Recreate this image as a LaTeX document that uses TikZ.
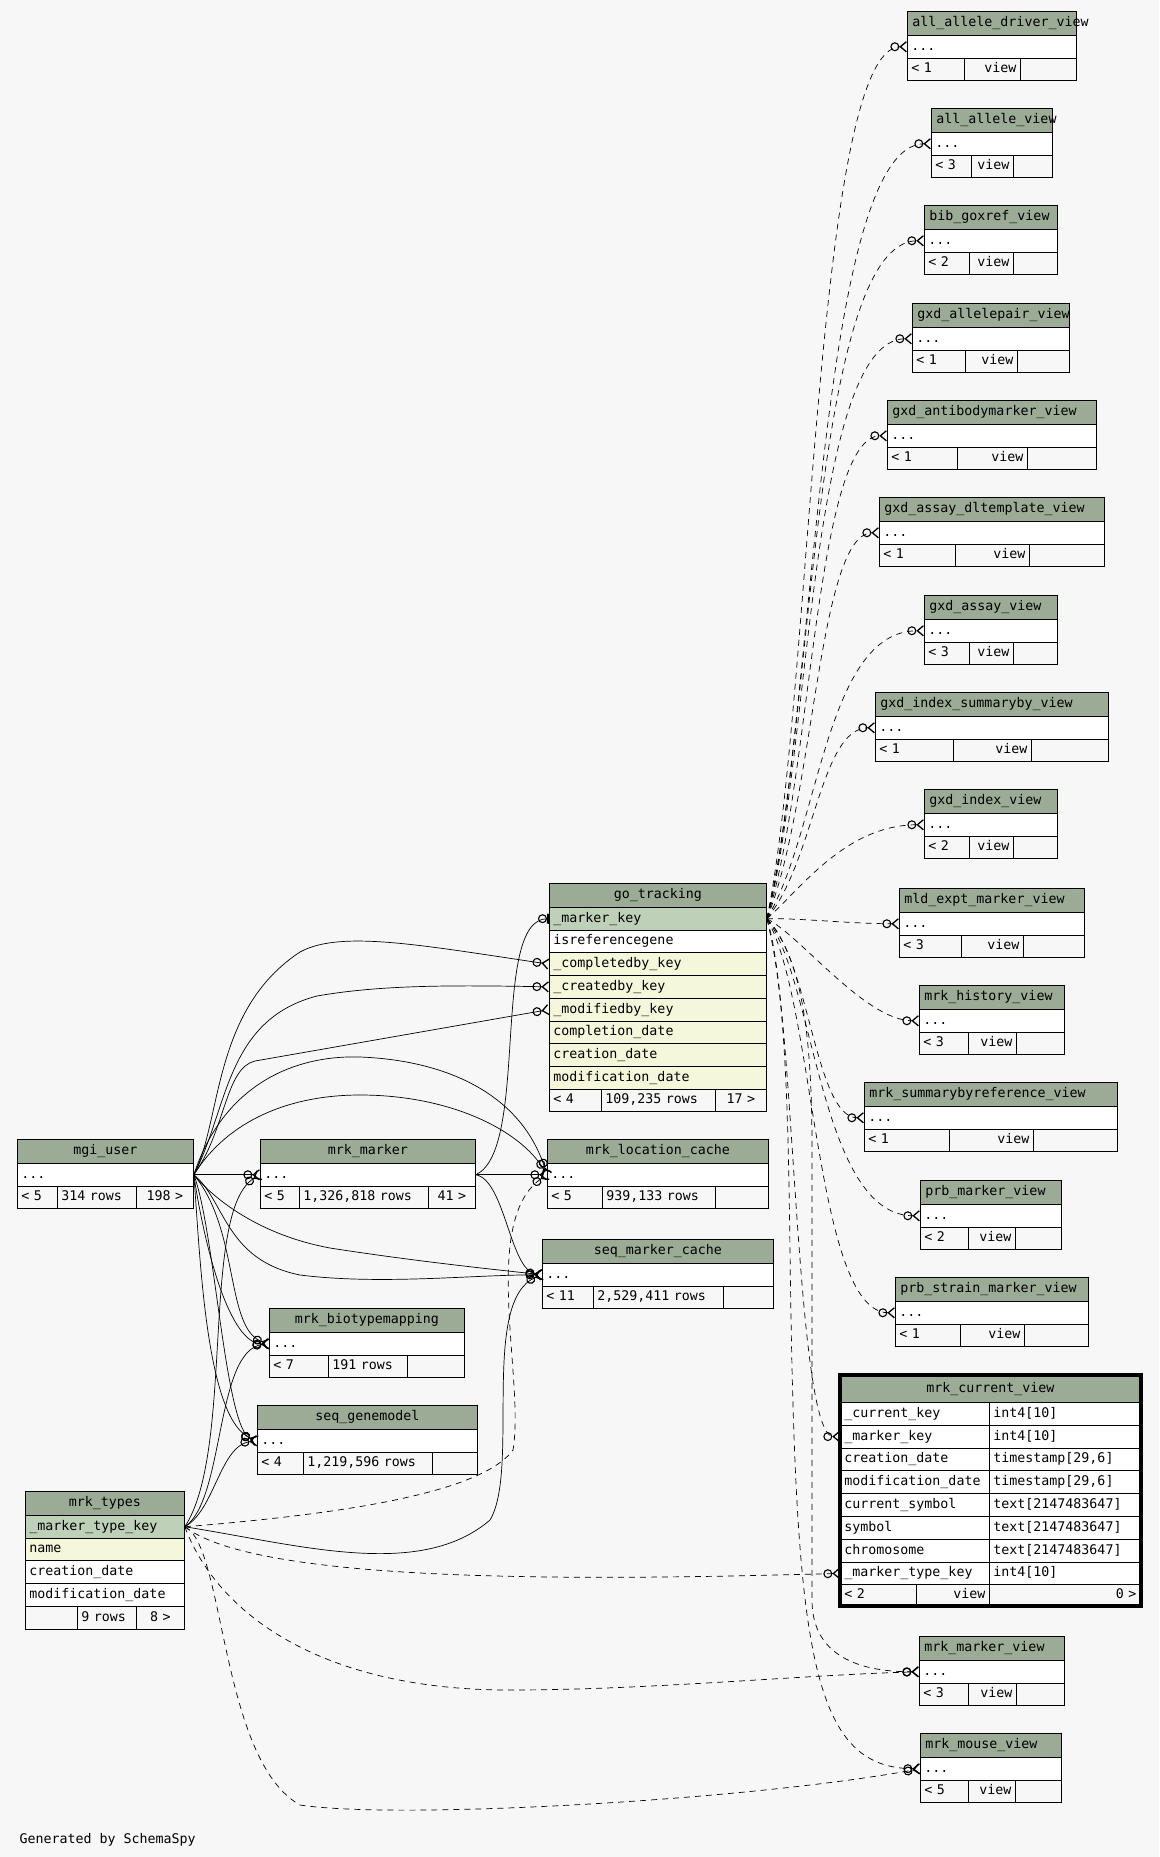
\documentclass[tikz,border=0pt]{standalone}
\usepackage{fontspec}
\setmonofont{DejaVu Sans Mono}
\usetikzlibrary{arrows.meta,positioning,fit}

\definecolor{hdrgreen}{HTML}{9BAB96}
\definecolor{keygreen}{HTML}{BED1B8}
\definecolor{fkyellow}{HTML}{F4F7DA}
\definecolor{paper}{HTML}{F7F7F7}

% one cell: name, x, y, width, style, text
\newcommand{\tcell}[6]{%
  \pgfmathsetmacro{\tcw}{#4-8}%
  \node[#5, text width=\tcw pt] (#1) at ({#2},{#3}) {#6};}
% footer row of a table: id, x, y, width, div1, div2, left, middle, right
\newcommand{\tfoot}[9]{%
  \tcell{#1-a}{#2}{#3}{#5-#2}{foot}{#7}%
  \tcell{#1-b}{#5}{#3}{#6-#5}{foot}{#8}%
  \tcell{#1-c}{#6}{#3}{#2+#4-#6}{foot, align=center}{#9}}
% a view with hidden columns: id, x, y, width, div1, div2, title, count
\newcommand{\viewtab}[8]{%
  \tcell{#1-h}{#2}{#3}{#4}{hdr, align=left}{\hspace*{1pt}\mbox{#7}}%
  \tcell{#1}{#2}{#3+24}{#4}{cellrow}{...}%
  \tcell{#1-a}{#2}{#3+46.7}{#5-#2}{foot}{< #8}%
  \tcell{#1-b}{#5}{#3+46.7}{#6-#5}{foot, align=right}{view\hspace*{3pt}}%
  \tcell{#1-c}{#6}{#3+46.7}{#2+#4-#6}{foot}{}}

\begin{document}
\begin{tikzpicture}[x=1pt, y=-1pt,
    tcellbase/.style={draw, line width=0.8pt, anchor=north west, inner xsep=4pt, inner ysep=0pt,
      text height=10pt, text depth=3pt, font=\ttfamily\fontsize{13.3}{15}\selectfont},
    hdr/.style={tcellbase, fill=hdrgreen, minimum height=24pt, align=center},
    cellrow/.style={tcellbase, fill=white, minimum height=22.7pt, align=left},
    keyrow/.style={cellrow, fill=keygreen},
    fkrow/.style={cellrow, fill=fkyellow},
    foot/.style={tcellbase, fill=paper, minimum height=22.7pt, align=left},
    fk/.style={line width=0.7pt, -{Circle[open,length=9pt,width=9pt,line width=1.1pt] Straight Barb[reversed,length=6pt,width=10pt,line width=1.3pt]}},
    implied/.style={fk, dash pattern=on 6pt off 5pt},
    one/.style={line width=0.7pt, -{Circle[open,length=9pt,width=9pt,line width=1.1pt] Bar[width=10pt,line width=2pt]}}]

\fill[paper] (0,0) rectangle (1159,1857);
\useasboundingbox (0,0) rectangle (1159,1857);

% go_tracking
\tcell{gt}{549}{883}{217}{hdr}{go\_tracking}
\tcell{gtmk}{549}{907}{217}{keyrow}{\_marker\_key}
\tcell{gtir}{549}{929.7}{217}{cellrow}{isreferencegene}
\tcell{gtcb}{549}{952.4}{217}{fkrow}{\_completedby\_key}
\tcell{gtcr}{549}{975.1}{217}{fkrow}{\_createdby\_key}
\tcell{gtmd}{549}{997.8}{217}{fkrow}{\_modifiedby\_key}
\tcell{gtcd}{549}{1020.5}{217}{fkrow}{completion\_date}
\tcell{gtcrd}{549}{1043.2}{217}{fkrow}{creation\_date}
\tcell{gtmdd}{549}{1065.9}{217}{fkrow}{modification\_date}
\tfoot{gt}{549}{1088.6}{217}{601}{715}{< 4}{109,235 rows}{17 >}

% tables with hidden columns
\tcell{mu-h}{17}{1139}{176}{hdr}{mgi\_user}
\tcell{mu}{17}{1163}{176}{cellrow}{...}
\tfoot{mu}{17}{1185.7}{176}{57}{136}{< 5}{314 rows}{198 >}

\tcell{mm-h}{260}{1139}{215}{hdr}{mrk\_marker}
\tcell{mm}{260}{1163}{215}{cellrow}{...}
\tfoot{mm}{260}{1185.7}{215}{299}{428}{< 5}{1,326,818 rows}{41 >}

\tcell{mlc-h}{547}{1139}{221}{hdr}{mrk\_location\_cache}
\tcell{mlc}{547}{1163}{221}{cellrow}{...}
\tfoot{mlc}{547}{1185.7}{221}{602}{715}{< 5}{939,133 rows}{}

\tcell{smc-h}{542}{1239}{231}{hdr}{seq\_marker\_cache}
\tcell{smc}{542}{1263}{231}{cellrow}{...}
\tfoot{smc}{542}{1285.7}{231}{593}{723}{< 11}{2,529,411 rows}{}

\tcell{mbm-h}{269}{1308}{195}{hdr}{mrk\_biotypemapping}
\tcell{mbm}{269}{1332}{195}{cellrow}{...}
\tfoot{mbm}{269}{1354.7}{195}{328}{407}{< 7}{191 rows}{}

\tcell{sgm-h}{257}{1405}{220}{hdr}{seq\_genemodel}
\tcell{sgm}{257}{1429}{220}{cellrow}{...}
\tfoot{sgm}{257}{1451.7}{220}{303}{432}{< 4}{1,219,596 rows}{}

% mrk_types
\tcell{mt-h}{25}{1491}{159}{hdr}{mrk\_types}
\tcell{mtkey}{25}{1515}{159}{keyrow}{\_marker\_type\_key}
\tcell{mtname}{25}{1537.7}{159}{fkrow}{name}
\tcell{mtcd}{25}{1560.4}{159}{cellrow}{creation\_date}
\tcell{mtmd}{25}{1583.1}{159}{cellrow}{modification\_date}
\tfoot{mt}{25}{1605.8}{159}{77}{136}{}{9 rows}{8 >}

% mrk_current_view
\tcell{mcv-h}{840}{1375}{300}{hdr, minimum height=27pt}{mrk\_current\_view}
\tcell{mcvck}{840}{1402}{149}{cellrow}{\_current\_key}
\tcell{mcvck-t}{989}{1402}{151}{cellrow}{int4[10]}
\tcell{mcvmk}{840}{1424.8}{149}{cellrow}{\_marker\_key}
\tcell{mcvmk-t}{989}{1424.8}{151}{cellrow}{int4[10]}
\tcell{mcvcd}{840}{1447.6}{149}{cellrow}{creation\_date}
\tcell{mcvcd-t}{989}{1447.6}{151}{cellrow}{timestamp[29,6]}
\tcell{mcvmd}{840}{1470.4}{149}{cellrow}{modification\_date}
\tcell{mcvmd-t}{989}{1470.4}{151}{cellrow}{timestamp[29,6]}
\tcell{mcvcs}{840}{1493.2}{149}{cellrow}{current\_symbol}
\tcell{mcvcs-t}{989}{1493.2}{151}{cellrow}{text[2147483647]}
\tcell{mcvsy}{840}{1516}{149}{cellrow}{symbol}
\tcell{mcvsy-t}{989}{1516}{151}{cellrow}{text[2147483647]}
\tcell{mcvch}{840}{1538.8}{149}{cellrow}{chromosome}
\tcell{mcvch-t}{989}{1538.8}{151}{cellrow}{text[2147483647]}
\tcell{mcvmt}{840}{1561.6}{149}{cellrow}{\_marker\_type\_key}
\tcell{mcvmt-t}{989}{1561.6}{151}{cellrow}{int4[10]}
\tcell{mcv-a}{840}{1584.4}{76}{foot, minimum height=21pt}{< 2}
\tcell{mcv-b}{916}{1584.4}{73}{foot, minimum height=21pt, align=right}{view\hspace*{3pt}}
\tcell{mcv-c}{989}{1584.4}{151}{foot, minimum height=21pt, align=right}{0 >\hspace*{6pt}}
\node[fit=(mcv-h)(mcv-c), draw, line width=4pt, inner sep=0pt] (mcv) {};

% views
\viewtab{aadv}{907}{11}{169}{964}{1020}{all\_allele\_driver\_view}{1}
\viewtab{aav}{931}{108}{121}{971}{1013}{all\_allele\_view}{3}
\viewtab{bgv}{924}{205}{133}{969}{1013}{bib\_goxref\_view}{2}
\viewtab{gapv}{912}{303}{157}{965}{1017}{gxd\_allelepair\_view}{1}
\viewtab{gabv}{887}{400}{209}{957}{1027}{gxd\_antibodymarker\_view}{1}
\viewtab{gadv}{879}{497}{225}{955}{1029}{gxd\_assay\_dltemplate\_view}{1}
\viewtab{gav}{924}{595}{133}{969}{1013}{gxd\_assay\_view}{3}
\viewtab{gisv}{875}{692}{233}{953}{1031}{gxd\_index\_summaryby\_view}{1}
\viewtab{giv}{924}{789}{133}{969}{1013}{gxd\_index\_view}{2}
\viewtab{mev}{899}{888}{185}{961}{1023}{mld\_expt\_marker\_view}{3}
\viewtab{mhv}{919}{985}{145}{968}{1016}{mrk\_history\_view}{3}
\viewtab{msrv}{864}{1082}{253}{949}{1033}{mrk\_summarybyreference\_view}{1}
\viewtab{pmv}{920}{1180}{141}{968}{1015}{prb\_marker\_view}{2}
\viewtab{psmv}{895}{1277}{193}{960}{1024}{prb\_strain\_marker\_view}{1}
\viewtab{mkv}{919}{1636}{145}{968}{1016}{mrk\_marker\_view}{3}
\viewtab{mov}{920}{1733}{141}{968}{1015}{mrk\_mouse\_view}{5}

\node[anchor=base west, font=\ttfamily\fontsize{13.3}{15}\selectfont] (credit) at (16,1843) {Generated by SchemaSpy};

% mgi_user
\draw[fk] (mu.east) .. controls (222,1120) and (212,1010) .. (300,952) .. controls (340,930) and (420,945) .. (gtcb.west);
\draw[fk] (mu.east) .. controls (228,1110) and (225,1020) .. (317,996) .. controls (380,985) and (450,985) .. (gtcr.west);
\draw[fk] (mu.east) .. controls (226,1130) and (225,1068) .. (255,1061) -- (gtmd.west);
\draw[fk] (mu.east) .. controls (225,1080) and (300,1055) .. (360,1057) .. controls (440,1060) and (520,1090) .. (mlc.west);
\draw[fk] (mu.east) .. controls (228,1120) and (290,1095) .. (360,1095) .. controls (450,1095) and (520,1130) .. (mlc.west);
\draw[fk] (mu.east) -- (mm.west);
\draw[fk] (mu.east) .. controls (215,1200) and (260,1235) .. (330,1248) .. controls (420,1262) and (500,1270) .. (smc.west);
\draw[fk] (mu.east) .. controls (225,1200) and (225,1260) .. (300,1275) .. controls (380,1285) and (470,1275) .. (smc.west);
\draw[fk] (mu.east) .. controls (240,1230) and (225,1330) .. (mbm.west);
\draw[fk] (mu.east) .. controls (205,1250) and (230,1345) .. (mbm.west);
\draw[fk] (mu.east) .. controls (200,1250) and (205,1420) .. (sgm.west);
\draw[fk] (mu.east) .. controls (215,1230) and (225,1430) .. (sgm.west);

% mrk_marker
\draw[one] (mm.east) .. controls (530,1150) and (490,918) .. (gtmk.west);
\draw[fk] (mm.east) -- (mlc.west);
\draw[fk] (mm.east) .. controls (505,1180) and (510,1270) .. (smc.west);

% mrk_types
\draw[fk] (mtkey.east) .. controls (235,1450) and (200,1210) .. (mm.west);
\draw[fk] (mtkey.east) .. controls (225,1500) and (215,1350) .. (mbm.west);
\draw[fk] (mtkey.east) .. controls (215,1510) and (220,1445) .. (sgm.west);
\draw[fk] (mtkey.east) .. controls (300,1545) and (420,1580) .. (490,1520) .. controls (520,1470) and (480,1300) .. (smc.west);
\draw[implied] (mtkey.east) .. controls (330,1515) and (480,1495) .. (513,1450) .. controls (525,1380) and (480,1220) .. (mlc.west);
\draw[implied] (mtkey.east) .. controls (260,1585) and (600,1580) .. (mcvmt.west);
\draw[implied] (mtkey.east) .. controls (220,1620) and (330,1690) .. (509,1690) .. controls (650,1690) and (800,1675) .. (mkv.west);
\draw[implied] (mtkey.east) .. controls (225,1545) and (220,1760) .. (300,1805) .. controls (400,1820) and (750,1800) .. (mov.west);

% go_tracking _marker_key to the views
\draw[implied] (gtmk.east) .. controls (812,700) and (aadv.west -| 815,0) .. (aadv.west);
\draw[implied] (gtmk.east) .. controls (815,720) and (aav.west -| 818,0) .. (aav.west);
\draw[implied] (gtmk.east) .. controls (812,740) and (bgv.west -| 812,0) .. (bgv.west);
\draw[implied] (gtmk.east) .. controls (810,760) and (gapv.west -| 810,0) .. (gapv.west);
\draw[implied] (gtmk.east) .. controls (812,780) and (gabv.west -| 815,0) .. (gabv.west);
\draw[implied] (gtmk.east) .. controls (815,800) and (gadv.west -| 818,0) .. (gadv.west);
\draw[implied] (gtmk.east) .. controls (820,830) and (gav.west -| 825,0) .. (gav.west);
\draw[implied] (gtmk.east) .. controls (815,860) and (gisv.west -| 820,0) .. (gisv.west);
\draw[implied] (gtmk.east) .. controls (800,890) and (giv.west -| 845,0) .. (giv.west);
\draw[implied] (gtmk.east) .. controls (800,918) and (mev.west -| 850,0) .. (mev.west);
\draw[implied] (gtmk.east) .. controls (800,935) and (mhv.west -| 865,0) .. (mhv.west);
\draw[implied] (gtmk.east) .. controls (810,960) and (msrv.west -| 815,0) .. (msrv.west);
\draw[implied] (gtmk.east) .. controls (815,980) and (pmv.west -| 820,0) .. (pmv.west);
\draw[implied] (gtmk.east) .. controls (815,1000) and (psmv.west -| 815,0) .. (psmv.west);
\draw[implied] (gtmk.east) .. controls (795,1000) and (mcvmk.west -| 795,0) .. (mcvmk.west);
\draw[implied] (gtmk.east) .. controls (805,960) and (812,1050) .. (812,1150) -- (812,1600) .. controls (812,1650) and (850,1672) .. (mkv.west);
\draw[implied] (gtmk.east) .. controls (785,990) and (788,1100) .. (790,1250) .. controls (795,1650) and (810,1768) .. (mov.west);
\end{tikzpicture}
\end{document}
